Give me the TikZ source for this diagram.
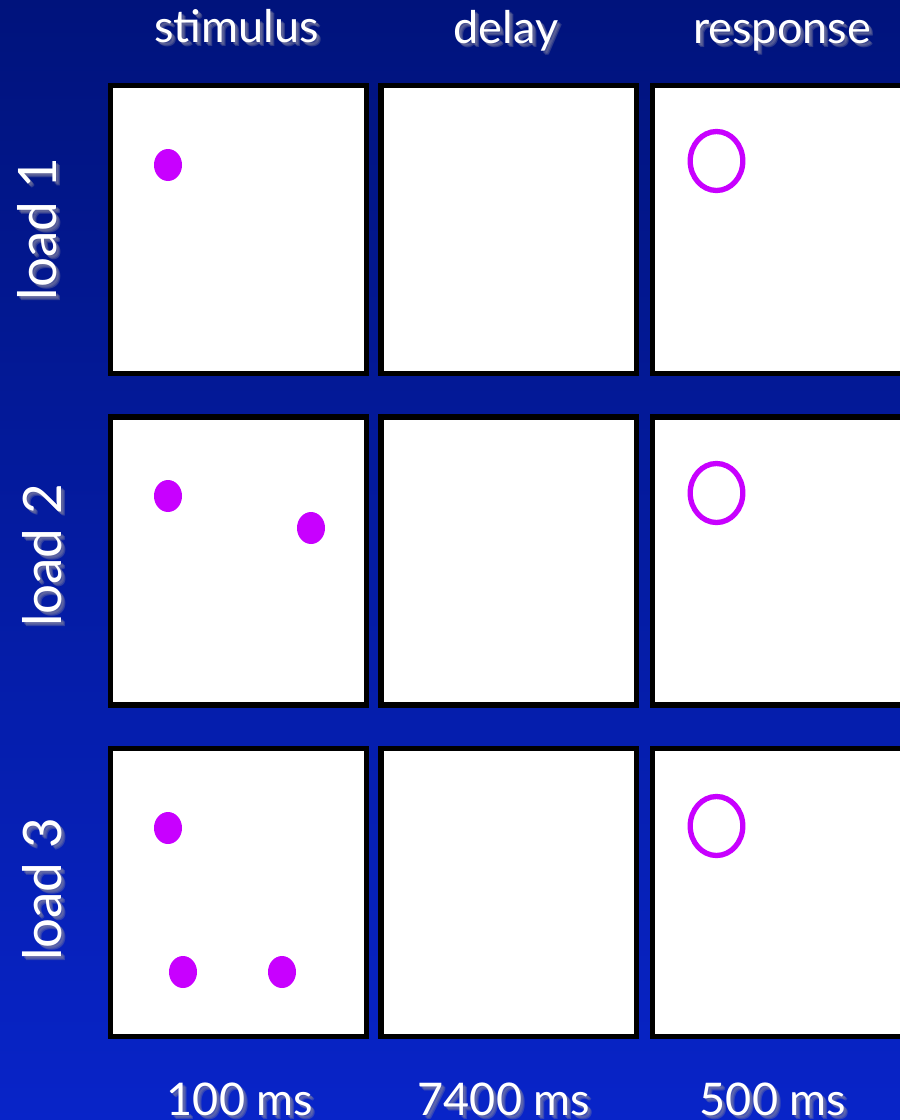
\documentclass[tikz,border=0pt]{standalone}
\usepackage{fontspec}
\setmainfont{Lato}
\definecolor{bgtop}{RGB}{0,19,124}
\definecolor{bgbot}{RGB}{8,36,200}
\definecolor{dotcol}{RGB}{200,0,255}
\definecolor{shadowcol}{RGB}{130,130,160}
\begin{document}
\begin{tikzpicture}[x=1pt,y=-1pt,
  box/.style={draw=black,fill=white,line width=5.3pt,inner sep=0pt,minimum width=255.5pt,minimum height=288pt},
  stimdot/.style={fill=dotcol,draw=none},
  probe/.style={draw=dotcol,line width=5.3pt},
  lbl/.style={text=white,inner sep=0pt,anchor=base,font=\fontsize{45}{50}\selectfont},
  shd/.style={text=shadowcol,opacity=0.35,inner sep=0pt,anchor=base,font=\fontsize{45}{50}\selectfont},
  rlbl/.style={text=white,inner sep=0pt,anchor=base,rotate=90,font=\fontsize{53}{58}\selectfont},
  rshd/.style={text=shadowcol,opacity=0.35,inner sep=0pt,anchor=base,rotate=90,font=\fontsize{53}{58}\selectfont}
]
\useasboundingbox (0,0) rectangle (900,1120);
\shade[top color=bgtop,bottom color=bgbot] (0,0) rectangle (900,1120);

% boxes
\foreach \r/\cy in {1/229.3,2/561,3/892.7}{
  \node[box] (b\r1) at (238.5,\cy) {};
  \node[box] (b\r2) at (508.8,\cy) {};
  \node[box] (b\r3) at (780.4,\cy) {};
}

% stimulus dots
\fill[stimdot] (168,165) ellipse [x radius=14, y radius=16];
\fill[stimdot] (168,496) ellipse [x radius=14, y radius=16];
\fill[stimdot] (311,528) ellipse [x radius=14, y radius=16];
\fill[stimdot] (168,828) ellipse [x radius=14, y radius=16];
\fill[stimdot] (183,972) ellipse [x radius=14, y radius=16];
\fill[stimdot] (282,972) ellipse [x radius=14, y radius=16];

% probes
\draw[probe] (716.5,161) ellipse [x radius=26.3, y radius=29.5];
\draw[probe] (716.5,493) ellipse [x radius=26.3, y radius=29.5];
\draw[probe] (716.5,826) ellipse [x radius=26.3, y radius=29.5];

% labels with shadows
\foreach \dx/\dy in {2/2,3/3,4/4}{
  \node[shd] at ([shift={(\dx,\dy)}]236.5,42) {stimulus};
  \node[shd] at ([shift={(\dx,\dy)}]506,43) {delay};
  \node[shd] at ([shift={(\dx,\dy)}]782,43) {response};
  \node[shd] at ([shift={(\dx,\dy)}]240,1115) {100 ms};
  \node[shd] at ([shift={(\dx,\dy)}]504,1115) {7400 ms};
  \node[shd] at ([shift={(\dx,\dy)}]773,1115) {500 ms};
  \node[rshd] at ([shift={(\dx,\dy)}]56,229) {load 1};
  \node[rshd] at ([shift={(\dx,\dy)}]61.7,555.5) {load 2};
  \node[rshd] at ([shift={(\dx,\dy)}]61.7,889.5) {load 3};
}
\node[lbl] (tstim) at (236.5,42) {stimulus};
\node[lbl] (tdelay) at (506,43) {delay};
\node[lbl] (tresp) at (782,43) {response};
\node[lbl] (d1) at (240,1115) {100 ms};
\node[lbl] (d2) at (504,1115) {7400 ms};
\node[lbl] (d3) at (773,1115) {500 ms};
\node[rlbl] (l1) at (56,229) {load 1};
\node[rlbl] (l2) at (61.7,555.5) {load 2};
\node[rlbl] (l3) at (61.7,889.5) {load 3};
\end{tikzpicture}
\end{document}
